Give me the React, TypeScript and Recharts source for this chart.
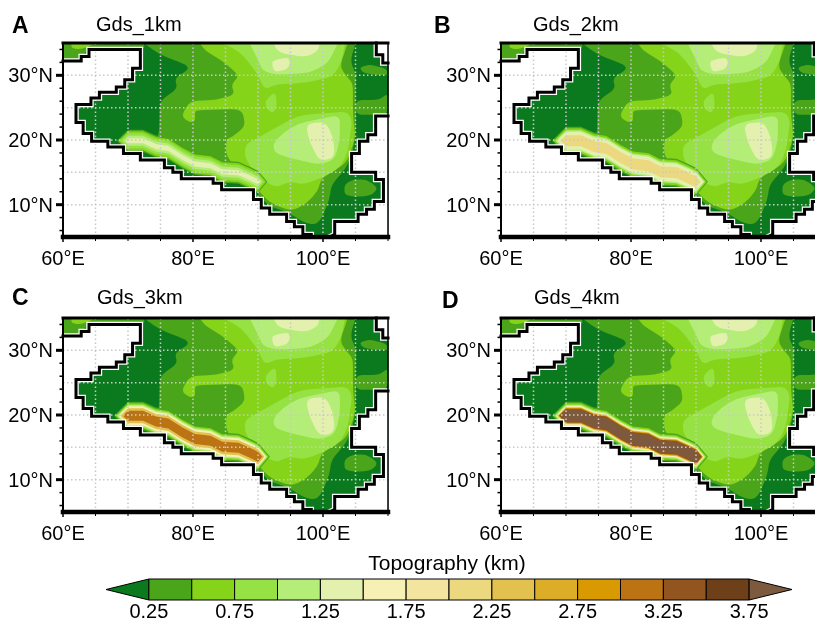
import React from 'react';
import { Bar, BarChart, Scatter, ScatterChart, XAxis, YAxis } from 'recharts';

type Pt = [number, number];

const FONT = '"Liberation Sans", Arial, sans-serif';

// colours of the filled contour levels, lowest first
const LEVEL_COLORS = [
  '#0b7a1e', '#4aa51a', '#85d41a', '#96e244', '#b4ee78', '#e3f0ae', '#f7f0b4', '#f3e5a0',
  '#ecd97f', '#e2c14f', '#dcae28', '#d89a00', '#bb7314', '#925520', '#6d4019', '#7d5a3d',
];
const LEVEL_EDGES = [0, 0.25, 0.5, 0.75, 1, 1.25, 1.5, 1.75, 2, 2.25, 2.5, 2.75, 3, 3.25, 3.5, 3.75, 4];
const COLORBAR_TICKS = [0.25, 0.75, 1.25, 1.75, 2.25, 2.75, 3.25, 3.75];

const LON_TICKS = [60, 65, 70, 75, 80, 85, 90, 95, 100, 105, 110];
const LAT_TICKS = [6, 8, 10, 12, 14, 16, 18, 20, 22, 24, 26, 28, 30, 32, 34];
const GRID_LONS = [65, 70, 75, 80, 85, 90, 95, 100, 105];
const GRID_LATS = [10, 15, 20, 25, 30];

const WHOLE_MAP: Pt[] = [[60, 35], [110, 35], [110, 5], [60, 5]];

// contours shared by all four panels: [level, outline]
const TOP_LEFT_1: Pt[] = [[60, 35], [72.5, 35], [72.5, 34], [64, 34], [62.8, 32.9], [62.8, 32.2], [60, 32.2]];
const TOP_LEFT_2: Pt[] = [[61.3, 35], [65.1, 35], [62.8, 34], [61.3, 34.2]];
const MAIN_1: Pt[] = [
  [72.4, 35], [74.9, 33.2], [79, 31.6], [79.3, 30.9], [77.2, 29.6], [77.6, 27.9], [74.9, 26.1], [74.8, 21.3],
  [74.4, 20.05], [79, 17.5], [83.1, 15.2], [86.2, 13.4], [89.5, 12.8], [90, 11.55], [91.8, 9.75], [94.9, 8.7],
  [96.9, 7.3], [98.7, 6.9], [99.7, 7.7], [101, 10.8], [101.3, 13.1], [103.6, 15.7], [104.6, 18.25], [105, 20.8],
  [105.1, 23.9], [105, 26.2], [105.1, 30.1], [104.2, 32.2], [105, 35],
];
const EAST_1A: Pt[] = [[105.6, 31.2], [107.2, 31.7], [109.8, 31], [110, 30], [108, 30.1], [106.2, 30.4]];
const EAST_1B: Pt[] = [[105, 26.2], [108.7, 26.2], [110, 27.3], [110, 23.9], [107.2, 23.9], [105.1, 23.9]];
const SOUTH_EAST_1: Pt[] = [[103.3, 13.1], [104.6, 13.9], [106.7, 13.9], [108.5, 12.6], [107.4, 11.4], [104.6, 11.2], [103.3, 11.6]];
const MAIN_2: Pt[] = [
  [81, 35], [82, 33.7], [84.6, 32.2], [87.1, 29.95], [85.9, 28.56], [86.4, 27], [83.6, 26.2], [79.5, 26],
  [78.2, 23.7], [79.5, 22.7], [80.3, 22.9], [80.3, 24.2], [80.5, 24.6], [86.7, 24.8], [87.7, 24.2], [88, 22.1],
  [86.2, 20.6], [85.1, 20.05], [85.1, 17.5], [88.7, 13.4], [90, 12.3], [91.8, 10.3], [95.1, 9], [97.4, 10.1],
  [99.2, 12.1], [99.7, 13.9], [101, 14.9], [103.6, 16.45], [105, 20.3], [104.6, 23.9], [104.6, 28.8],
  [103.6, 29.85], [102.6, 31.4], [103.8, 35],
];
const UPPER_3: Pt[] = [
  [84.6, 35], [87.4, 33.5], [89, 31.4], [90, 30.1], [91, 27.8], [92.8, 28.6], [96.9, 28.8], [99, 29.2],
  [101.5, 29.85], [102.8, 31.9], [103.4, 35],
];
const PATCH_3: Pt[] = [[91.2, 26.2], [92.7, 27.5], [92.9, 25.2], [92.3, 24.1], [91.2, 24.95]];
const LOWER_3: Pt[] = [
  [88, 19.3], [90.5, 20.6], [94.9, 23.15], [96.9, 23.9], [103.6, 24.4], [104.5, 23.15], [103.85, 18.25],
  [102.6, 15.7], [99.7, 14.1], [96.9, 13.1], [94.9, 13.6], [92.6, 12.6], [89.75, 14.6], [88, 17.2],
];
const UPPER_4: Pt[] = [
  [88.7, 35], [90, 32.4], [90.8, 30.6], [93.1, 30.1], [98, 30.4], [100.8, 31.9], [102.3, 35],
];
const LOWER_4: Pt[] = [
  [92.3, 19.3], [93.8, 21.1], [96.4, 22.6], [102.6, 23.9], [102.6, 20], [101.8, 17], [99.5, 16.2], [94.9, 17.2], [92.6, 18],
];
const UPPER_5: Pt[] = [[92.3, 35], [93.2, 33.5], [97.2, 32.8], [99.2, 33.7], [99.5, 35]];
const BLOB_5: Pt[] = [[92.2, 32.3], [94.6, 32.8], [95, 31.9], [94.4, 30.9], [92.6, 30.5], [92.2, 31.4]];
const LOWER_5: Pt[] = [[97.3, 22.5], [100.4, 22.8], [101.6, 20.3], [101.8, 17.3], [99.5, 16.7], [98, 19.5]];

const CONTOURS: [number, Pt[]][] = [
  [1, TOP_LEFT_1], [2, TOP_LEFT_2], [1, MAIN_1], [1, EAST_1A], [1, EAST_1B], [1, SOUTH_EAST_1],
  [2, MAIN_2], [3, UPPER_3], [3, PATCH_3], [3, LOWER_3], [4, UPPER_4], [4, LOWER_4], [5, UPPER_5], [5, BLOB_5], [5, LOWER_5],
];

// ridge centre line, the only part that changes between panels
const RIDGE: Pt[] = [
  [70, 19.9], [72.3, 19.9], [74.3, 19], [76.2, 18.7], [78.4, 17.3], [80.3, 16.3], [82.7, 16], [84.5, 15.1], [87, 14.95], [88.9, 14.07], [90, 13.55],
];
const RIDGE_1KM: [number, number][] = [[1, 22], [2, 19], [3, 15], [4, 10], [5, 5]];
const RIDGE_2KM: [number, number][] = [[1, 28], [2, 25], [4, 21], [5, 18], [8, 11]];
const RIDGE_3KM: [number, number][] = [[1, 28], [2, 25], [4, 22], [6, 19], [9, 15], [12, 10]];
const RIDGE_4KM: [number, number][] = [[1, 28], [2, 25], [4, 22], [6, 19.5], [9, 17], [11, 15.5], [13, 14], [15, 11]];

// staircase coast of the model domain
const WEST_COAST: Pt[] = [
  [60, 32.2], [62.8, 32.2], [62.8, 32.9], [64, 32.9], [64, 34], [71.9, 34], [71.9, 31.1], [70.7, 31.1], [70.7, 29.3],
  [69.5, 29.3], [69.5, 28.2], [68.2, 28.2], [68.2, 27.4], [65.6, 27.4], [65.6, 26.5], [64.3, 26.5], [64.3, 25.5], [62, 25.5],
  [62, 22.7], [63.1, 22.7], [63.1, 21], [64.4, 21], [64.4, 19.8], [66.9, 19.8], [66.9, 18.9], [69.3, 18.9], [69.3, 17.9],
  [71.9, 17.9], [71.9, 16.9], [75.6, 16.9], [75.6, 15.7], [76.9, 15.7], [76.9, 15], [78.2, 15], [78.2, 14], [83.1, 14],
  [83.1, 13.3], [84.4, 13.3], [84.4, 12.3], [89.3, 12.3], [89.3, 10.8], [90.5, 10.8], [90.5, 9.5], [91.8, 9.5], [91.8, 8.5],
  [94.4, 8.5], [94.4, 7.4], [95.6, 7.4], [95.6, 6.6], [96.9, 6.6], [96.9, 5.4], [98.2, 5.4], [98.2, 5],
];
const EAST_COAST: Pt[] = [
  [101, 5], [101.8, 5.4], [101.8, 7.4], [105.4, 7.4], [105.4, 8.5], [106.7, 8.5], [106.7, 9.3], [107.9, 9.3], [107.9, 10.5],
  [109.3, 10.5], [109.3, 13.9], [108.1, 13.9], [108.1, 15], [104.4, 15], [104.4, 17.9], [105.6, 17.9], [105.6, 19.8],
  [106.9, 19.8], [106.9, 20.8], [108.1, 20.8], [108.1, 23.7], [110, 23.7],
];
const NORTH_EAST_COAST: Pt[] = [[108.2, 35], [108.2, 33.2], [109.2, 33.2], [109.2, 31.9], [110, 31.9]];

const toRows = (pts: Pt[]) => pts.map(([lon, lat]) => ({ lon, lat }));
const hidden = () => <g />;

const fillLine = (color: string) => (p: any) => (
  <polygon
    points={p.points.map((q: any) => `${q.x},${q.y}`).join(' ')}
    fill={color}
    stroke={color}
    strokeWidth={1}
    strokeLinejoin="round"
  />
);

// closed outline with its corners rounded, except where it touches the top of the map
const softLine = (color: string, sharp: boolean[]) => (p: any) => {
  const pts = p.points;
  const n = pts.length;
  let d = '';
  pts.forEach((q: any, i: number) => {
    const a = pts[(i + n - 1) % n];
    const b = pts[(i + 1) % n];
    if (sharp[i]) {
      d += `${i === 0 ? 'M' : 'L'}${q.x},${q.y} `;
      return;
    }
    const la = Math.hypot(a.x - q.x, a.y - q.y) || 1;
    const lb = Math.hypot(b.x - q.x, b.y - q.y) || 1;
    const ca = Math.min(la * 0.4, 8) / la;
    const cb = Math.min(lb * 0.4, 8) / lb;
    d += `${i === 0 ? 'M' : 'L'}${q.x + (a.x - q.x) * ca},${q.y + (a.y - q.y) * ca} `;
    d += `Q${q.x},${q.y} ${q.x + (b.x - q.x) * cb},${q.y + (b.y - q.y) * cb} `;
  });
  return <path d={`${d}Z`} fill={color} />;
};

// ridge band: the centre line widened up and down, with pointed ends
const ribbonLine = (color: string, width: number) => (p: any) => {
  const pts = p.points;
  const h = width / 2;
  const upper = pts.map((q: any) => `${q.x},${q.y - h}`);
  const lower = [...pts].reverse().map((q: any) => `${q.x},${q.y + h}`);
  const first = pts[0];
  const last = pts[pts.length - 1];
  const outline = [`${first.x - h},${first.y}`, ...upper, `${last.x + h * 0.85},${last.y}`, ...lower];
  return <polygon points={outline.join(' ')} fill={color} />;
};

const strokeLine = (color: string, width: number, dash?: string) => (p: any) => (
  <polyline
    points={p.points.map((q: any) => `${q.x},${q.y}`).join(' ')}
    fill="none"
    stroke={color}
    strokeWidth={width}
    strokeDasharray={dash}
    strokeLinejoin="miter"
    strokeLinecap={dash ? 'butt' : 'square'}
  />
);

const area = (key: string, pts: Pt[], color: string) => (
  <Scatter key={key} data={toRows(pts)} shape={hidden} line={fillLine(color)} isAnimationActive={false} />
);
const softArea = (key: string, pts: Pt[], color: string) => (
  <Scatter
    key={key}
    data={toRows(pts)}
    shape={hidden}
    line={softLine(color, pts.map((q) => q[1] === 35))}
    isAnimationActive={false}
  />
);
const path = (key: string, pts: Pt[], color: string, width: number, dash?: string) => (
  <Scatter key={key} data={toRows(pts)} shape={hidden} line={strokeLine(color, width, dash)} isAnimationActive={false} />
);

const LonTick = ({ x, y, payload }: any) => {
  const major = payload.value % 20 === 0;
  return (
    <g>
      <line x1={x} x2={x} y1={y} y2={y + (major ? 5 : 4)} stroke="#000" strokeWidth={major ? 1.5 : 1} />
      {major && payload.value < 110 ? (
        <text x={x} y={y + 28} textAnchor="middle" fontSize={20} fontFamily={FONT} fill="#000">
          {payload.value}°E
        </text>
      ) : null}
    </g>
  );
};

const LatTick = ({ x, y, payload }: any) => {
  const major = payload.value % 10 === 0;
  return (
    <g>
      <line x1={x} x2={x - (major ? 7 : 3.5)} y1={y} y2={y} stroke="#000" strokeWidth={major ? 3 : 1.5} />
      {major ? (
        <text x={x - 10} y={y + 7} textAnchor="end" fontSize={20} fontFamily={FONT} fill="#000">
          {payload.value}°N
        </text>
      ) : null}
    </g>
  );
};

const PLOT_W = 325;
const PLOT_H = 194;

const Panel = ({ left, top, ridge }: { left: number; top: number; ridge: [number, number][] }) => (
  <div style={{ position: 'absolute', left, top }}>
    <ScatterChart width={PLOT_W + 66} height={PLOT_H + 42} margin={{ top: 4, right: 3, bottom: 0, left: 0 }}>
      <XAxis
        type="number"
        dataKey="lon"
        domain={[60, 110]}
        ticks={LON_TICKS}
        interval={0}
        height={38}
        axisLine={false}
        tickLine={false}
        tickSize={0}
        tickMargin={0}
        tick={<LonTick />}
      />
      <YAxis
        type="number"
        dataKey="lat"
        domain={[5, 35]}
        ticks={LAT_TICKS}
        interval={0}
        width={63}
        axisLine={false}
        tickLine={false}
        tickSize={0}
        tickMargin={0}
        tick={<LatTick />}
      />
      {area('base', WHOLE_MAP, LEVEL_COLORS[0])}
      {CONTOURS.map(([level, pts], i) => softArea(`c${i}`, pts, LEVEL_COLORS[level]))}
      {ridge.map(([level, width], i) => (
        <Scatter
          key={`r${i}`}
          data={toRows(RIDGE)}
          shape={hidden}
          line={ribbonLine(LEVEL_COLORS[level], width)}
          isAnimationActive={false}
        />
      ))}
      {area('mw', [...WEST_COAST, [60, 5]], '#fff')}
      {area('me', [...EAST_COAST, [110, 5]], '#fff')}
      {area('mn', [...NORTH_EAST_COAST, [110, 35]], '#fff')}
      {GRID_LONS.map((lon) => path(`gx${lon}`, [[lon, 5], [lon, 35]], '#c9c9c9', 1.5, '1.5 2.5'))}
      {GRID_LATS.map((lat) => path(`gy${lat}`, [[60, lat], [110, lat]], '#c9c9c9', 1.5, '1.5 2.5'))}
      {[WEST_COAST, EAST_COAST, NORTH_EAST_COAST].map((c, i) => path(`h${i}`, c, '#fff', 5.5))}
      {[WEST_COAST, EAST_COAST, NORTH_EAST_COAST].map((c, i) => path(`k${i}`, c, '#000', 3))}
      {path('ft', [[60, 35], [110, 35]], '#000', 3)}
      {path('fb', [[60, 5], [110, 5]], '#000', 4.5)}
      {path('fl', [[60, 5], [60, 35]], '#000', 2)}
      {path('fr', [[110, 5], [110, 35]], '#000', 1.5)}
    </ScatterChart>
  </div>
);

const TriangleBar = (dir: number) => (p: any) => {
  const midY = p.y + p.height / 2;
  const tip = dir < 0 ? p.x : p.x + p.width;
  const base = dir < 0 ? p.x + p.width : p.x;
  return (
    <polygon
      points={`${base},${p.y} ${tip},${midY} ${base},${p.y + p.height}`}
      fill={p.fill}
      stroke="#000"
      strokeWidth={1}
    />
  );
};

const bandRow: Record<string, string | number> = { name: 'Topography' };
LEVEL_COLORS.forEach((_, i) => {
  bandRow[`b${i}`] = LEVEL_EDGES[i + 1] - LEVEL_EDGES[i];
});

const Colorbar = () => (
  <div style={{ position: 'absolute', left: 0, top: 570 }}>
    <BarChart
      width={815}
      height={53}
      layout="vertical"
      data={[bandRow]}
      barCategoryGap={0}
      margin={{ top: 9, right: 23, bottom: 0, left: 106 }}
    >
      <XAxis
        type="number"
        domain={[0, 4]}
        ticks={COLORBAR_TICKS}
        interval={0}
        height={23}
        axisLine={false}
        tickLine={false}
        tickSize={0}
        tickMargin={4}
        tickFormatter={(v: number) => v.toFixed(2)}
        tick={{ fontSize: 20, fontFamily: FONT, fill: '#000' }}
      />
      <YAxis type="category" dataKey="name" hide />
      {LEVEL_COLORS.map((color, i) => (
        <Bar
          key={i}
          dataKey={`b${i}`}
          stackId="bar"
          fill={color}
          stroke="#000"
          strokeWidth={1}
          isAnimationActive={false}
          shape={i === 0 ? TriangleBar(-1) : i === LEVEL_COLORS.length - 1 ? TriangleBar(1) : undefined}
        />
      ))}
    </BarChart>
  </div>
);

const Label = ({ x, y, text, bold }: { x: number; y: number; text: string; bold?: boolean }) => (
  <div
    style={{
      position: 'absolute',
      left: x,
      top: y,
      fontFamily: FONT,
      fontSize: bold ? 23 : 20,
      fontWeight: bold ? 'bold' : 'normal',
      lineHeight: '24px',
      color: '#000',
    }}
  >
    {text}
  </div>
);

export default function App() {
  return (
    <div
      style={{
        position: 'absolute',
        left: 0,
        top: 0,
        width: 815,
        height: 623,
        overflow: 'hidden',
        background: '#fff',
        filter: 'blur(0.4px)',
      }}
    >
      <Panel left={0.3} top={39.3} ridge={RIDGE_1KM} />
      <Panel left={438} top={39.3} ridge={RIDGE_2KM} />
      <Panel left={0.3} top={314} ridge={RIDGE_3KM} />
      <Panel left={438} top={314} ridge={RIDGE_4KM} />
      <Label x={12} y={13} text="A" bold />
      <Label x={96} y={12} text="Gds_1km" />
      <Label x={434} y={13} text="B" bold />
      <Label x={533} y={12} text="Gds_2km" />
      <Label x={12} y={285} text="C" bold />
      <Label x={97} y={285} text="Gds_3km" />
      <Label x={442} y={288} text="D" bold />
      <Label x={534} y={285} text="Gds_4km" />
      <div
        style={{
          position: 'absolute',
          left: 347,
          width: 200,
          top: 551,
          textAlign: 'center',
          fontFamily: FONT,
          fontSize: 21,
          lineHeight: '24px',
        }}
      >
        Topography (km)
      </div>
      <Colorbar />
    </div>
  );
}
